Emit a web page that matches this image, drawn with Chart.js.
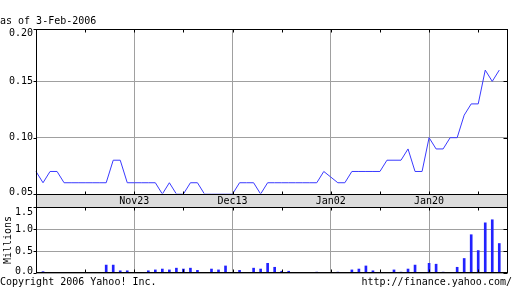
<!DOCTYPE html>
<html><head><meta charset="utf-8">
<script src="https://cdn.jsdelivr.net/npm/chart.js@4.4.1/dist/chart.umd.min.js"></script>
<style>
html,body{margin:0;padding:0;background:#fff;width:512px;height:288px;overflow:hidden}
canvas{position:absolute;left:0;top:0}
.t{position:absolute;font:10px 'DejaVu Sans Mono',monospace;color:#000;white-space:nowrap;line-height:12px}
</style></head><body>
<canvas id="p" width="512" height="288"></canvas>
<canvas id="v" width="512" height="288"></canvas>
<div class="t" style="left:0;top:14.5px">as of 3-Feb-2006</div>
<div class="t" style="left:0;top:275.5px">Copyright 2006 Yahoo! Inc.</div>
<div class="t" style="right:0;top:275.5px">http://finance.yahoo.com/</div>
<script>
// ---- data ----
const dates = [
 'Nov03','Nov04','Nov07','Nov08','Nov09','Nov10','Nov11','Nov14','Nov15','Nov16','Nov17','Nov18','Nov21','Nov22','Nov23',
 'Nov24','Nov25','Nov28','Nov29','Nov30','Dec01','Dec02','Dec05','Dec06','Dec07','Dec08','Dec09','Dec12','Dec13',
 'Dec14','Dec15','Dec16','Dec19','Dec20','Dec21','Dec22','Dec23','Dec26','Dec27','Dec28','Dec29','Dec30','Jan02',
 'Jan03','Jan04','Jan05','Jan06','Jan09','Jan10','Jan11','Jan12','Jan13','Jan16','Jan17','Jan18','Jan19','Jan20',
 'Jan23','Jan24','Jan25','Jan26','Jan27','Jan30','Jan31','Feb01','Feb02','Feb03'
];
const prices = [
 0.07,0.06,0.07,0.07,0.06,0.06,0.06,0.06,0.06,0.06,
 0.06,0.08,0.08,0.06,0.06,0.06,0.06,0.06,0.05,0.06,
 0.05,0.05,0.06,0.06,0.05,0.05,0.05,0.05,0.05,0.06,
 0.06,0.06,0.05,0.06,0.06,0.06,0.06,0.06,0.06,0.06,
 0.06,0.07,0.065,0.06,0.06,0.07,0.07,0.07,0.07,0.07,
 0.08,0.08,0.08,0.09,0.07,0.07,0.10,0.09,0.09,0.10,
 0.10,0.12,0.13,0.13,0.16,0.15,0.16
];
const volumes = [
 0,0.03,0,0,0,0,0,0,0,0,
 0.18,0.18,0.05,0.05,0,0,0.05,0.07,0.09,0.07,
 0.11,0.09,0.11,0.06,0,0.09,0.07,0.16,0,0.06,
 0,0.11,0.09,0.22,0.13,0.04,0.04,0,0,0,
 0.02,0,0,0.02,0,0.07,0.09,0.16,0.05,0,
 0,0.07,0.02,0.09,0.18,0,0.22,0.20,0.02,0,
 0.13,0.33,0.87,0.51,1.14,1.21,0.67
];
const xTickLabels = ['Nov23','Dec13','Jan02','Jan20'];
const priceTicks = [0.05,0.10,0.15,0.20];
const volumeTicks = [0.0,0.5,1.0,1.5];

// ---- styling ----
const FONT = {family:"'DejaVu Sans Mono', monospace", size:10};
Chart.defaults.font = FONT;
Chart.defaults.color = '#000';
const GRID = '#a0a0a0', BAND = '#dcdcdc', LINE = '#3a3aff', BAR = '#2222ff';
const X_MAX = 67.1, PRICE_MIN = 0.05, PRICE_MAX = 0.1965;

// end labels are nudged inside the plot (as in the original): first label up, last label down
const edgeLabel = (txt, i, n) => i === 0 ? [txt, ''] : (i === n-1 ? ['', txt] : txt);
const edgeFont = (lhFirst, lhLast, n) => c => ({...FONT,
  lineHeight: c.index === 0 ? lhFirst : (c.index === n-1 ? lhLast : 1.2)});

const xTicksEvery7 = s => { s.ticks = dates.map((d,i)=>i).filter(i=>i%7===0).map(v=>({value:v})); };
const xGridColor = c => (c.tick && xTickLabels.includes(dates[c.tick.value])) ? GRID : 'rgba(0,0,0,0)';

const framePlugin = {
  id:'frame',
  beforeDraw(chart, args, opts){
    if(!opts.band) return;
    const {ctx, chartArea:a} = chart, xs = chart.scales.x;
    ctx.save(); ctx.fillStyle = BAND;
    ctx.fillRect(a.left, a.bottom, a.right-a.left, xs.bottom-a.bottom);
    ctx.restore();
  },
  afterDatasetsDraw(chart, args, opts){
    const {ctx, chartArea:a} = chart, xs = chart.scales.x, ys = chart.scales.y;
    const L = Math.round(a.left)+0.5, R = Math.round(a.right)+0.5,
          T = Math.round(a.top)+0.5, B = Math.round(a.bottom)+opts.bOff;
    ctx.save(); ctx.strokeStyle = '#000'; ctx.lineWidth = 1;
    ctx.strokeRect(L, T, R-L, B-T);
    ctx.beginPath();
    if(opts.band){
      const bb = Math.round(xs.bottom);
      ctx.moveTo(L,B); ctx.lineTo(L,bb); ctx.moveTo(R,B); ctx.lineTo(R,bb);
    }
    xs.ticks.forEach(t=>{ if(t.value<=0) return;
      const x = Math.round(xs.getPixelForValue(t.value))+0.5;
      ctx.moveTo(x,T); ctx.lineTo(x,T+3); ctx.moveTo(x,B); ctx.lineTo(x,B-3); });
    ys.ticks.forEach(t=>{
      const y = Math.round(ys.getPixelForValue(t.value))+0.5;
      ctx.moveTo(L-3,y); ctx.lineTo(L,y); ctx.moveTo(R-4,y); ctx.lineTo(R,y); });
    ctx.stroke(); ctx.restore();
  }
};

// ---- price chart ----
new Chart(document.getElementById('p'), {
  type:'line',
  data:{ datasets:[{ data: prices.map((v,i)=>({x:i,y:v})), borderColor:LINE, borderWidth:1,
    pointRadius:0, tension:0, fill:false, clip:{left:1,top:1,right:1,bottom:-0.5} }] },
  options:{
    responsive:false, animation:false, events:[],
    layout:{padding:{left:0,top:29,right:5,bottom:81}},
    plugins:{legend:{display:false}, tooltip:{enabled:false}, frame:{band:true,bOff:0.5}},
    scales:{
      x:{ type:'linear', min:0, max:X_MAX, offset:false,
        afterBuildTicks: xTicksEvery7,
        afterFit: s=>{ s.height = 13; },
        grid:{ color:xGridColor, drawTicks:false },
        border:{ display:false },
        ticks:{ autoSkip:false, maxRotation:0, padding:1, color:'#000',
          callback: v => xTickLabels.includes(dates[v]) ? dates[v] : '' } },
      y:{ min:PRICE_MIN, max:PRICE_MAX,
        afterBuildTicks: s=>{ s.ticks = priceTicks.map(v=>({value:Math.min(v,s.max)})); },
        afterFit: s=>{ s.width = 36; },
        grid:{ color:GRID, drawTicks:false },
        border:{ display:false },
        ticks:{ autoSkip:false, padding:3, color:'#000', font: edgeFont('4px','8px',priceTicks.length),
          callback:(v,i)=>edgeLabel(priceTicks[i].toFixed(2), i, priceTicks.length) } }
    }
  },
  plugins:[framePlugin]
});

// ---- volume chart ----
new Chart(document.getElementById('v'), {
  type:'bar',
  data:{ datasets:[{ data: volumes.map((v,i)=>({x:i,y:v})), backgroundColor:BAR, borderWidth:0, barThickness:2 }] },
  options:{
    responsive:false, animation:false, events:[],
    layout:{padding:{left:0,top:207,right:5,bottom:15}},
    plugins:{legend:{display:false}, tooltip:{enabled:false}, frame:{band:false,bOff:-0.5}},
    scales:{
      x:{ type:'linear', min:0, max:X_MAX, offset:false,
        afterBuildTicks: xTicksEvery7,
        afterFit: s=>{ s.height = 0; },
        grid:{ color:xGridColor, drawTicks:false, offset:false },
        border:{ display:false },
        ticks:{ display:false } },
      y:{ min:0, max:1.5,
        afterBuildTicks: s=>{ s.ticks = volumeTicks.map(v=>({value:v})); },
        afterFit: s=>{ s.width = 36; },
        grid:{ color:GRID, drawTicks:false },
        border:{ display:false },
        title:{ display:true, text:'Millions', color:'#000', padding:{top:2,bottom:0} },
        ticks:{ autoSkip:false, padding:3, color:'#000', font: edgeFont('4px','10px',volumeTicks.length),
          callback:(v,i)=>edgeLabel(volumeTicks[i].toFixed(1), i, volumeTicks.length) } }
    }
  },
  plugins:[framePlugin]
});
</script>
</body></html>
